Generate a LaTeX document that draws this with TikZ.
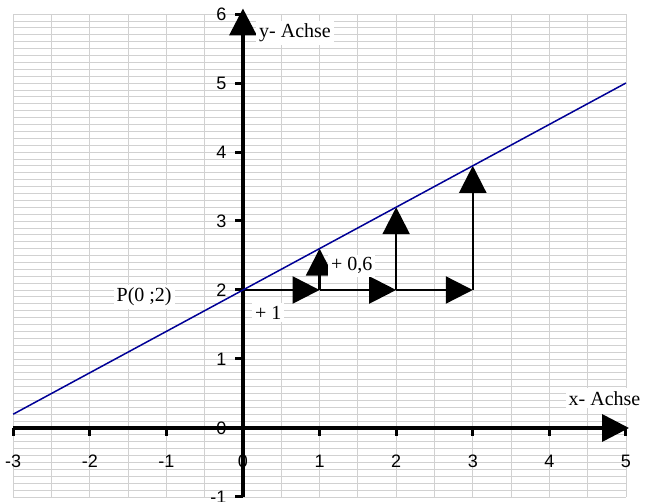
\documentclass[tikz,border=0pt]{standalone}
\usepackage{fontspec}
\setmainfont{Liberation Serif}
\newfontfamily\arialfont{Liberation Sans}
\usetikzlibrary{arrows.meta}

\begin{document}
\begin{tikzpicture}[x=76.6pt, y=69pt,
        gridline/.style={black!18, line width=0.8pt},
        axisline/.style={line width=3.5pt, -{Triangle[length=27pt,width=27pt]}},
        axistick/.style={line width=3pt},
        stepArrow/.style={line width=2.3pt, -{Triangle[length=27pt,width=27pt]}},
        gerade/.style={draw={rgb,255:red,0;green,0;blue,150}, line width=1.5pt},
        numlabel/.style={font=\arialfont\fontsize{18}{18}\selectfont, inner sep=1pt},
        textlabel/.style={fill=white, font=\fontsize{20}{20}\selectfont, inner sep=3pt}]
        \useasboundingbox (-3.172,-1.072) rectangle (5.366,6.203);

        % Grid
        \foreach \k in {-10,...,60}
            \draw[gridline] (-3,\k/10) -- (5,\k/10);
        \foreach \k in {-6,...,10}
            \draw[gridline] (\k/2,-1) -- (\k/2,6);

        % Axes
        \coordinate (xstart) at (-3,0);
        \coordinate (xend) at (5.04,0);
        \coordinate (ystart) at (0,-1);
        \coordinate (yend) at (0,6.08);
        \draw[axisline] (xstart) -- (xend);
        \draw[axisline] (ystart) -- (yend);
        \foreach \x in {-3,...,5} {
            \draw[axistick] (\x,0) -- ++(0,-8pt);
            \node[numlabel] (xlab\x) at (\x,-0.48) {\x};
        }
        \foreach \y in {-1,...,6} {
            \draw[axistick] (0,\y) -- ++(-8pt,0);
            \node[numlabel, anchor=east] (ylab\y) at (-0.2,\y) {\y};
        }
        \node[textlabel] (yname) at (0.68,5.73) {y- Achse};
        \node[textlabel] (xname) at (4.72,0.43) {x- Achse};

        % Steps
        \coordinate (P) at (0,2);
        \foreach \i in {1,2,3} {
            \coordinate (h\i) at (\i,2);
            \coordinate (v\i) at (\i,{2+0.6*\i});
        }
        \draw[stepArrow] (P) -- (h1);
        \draw[stepArrow] (h1) -- (h2);
        \draw[stepArrow] (h2) -- (h3);
        \foreach \i in {1,2,3}
            \draw[stepArrow] (h\i) -- (v\i);
        \node[textlabel] (plus1) at (0.33,1.67) {+ 1};
        \node[textlabel] (plus06) at (1.42,2.35) {+ 0,6};

        % Line
        \coordinate (gA) at (-3,0.2);
        \coordinate (gB) at (5,5);
        \draw[gerade] (gA) -- (gB);
        \node[textlabel] (pname) at (-1.29,1.90) {P(0 ;2)};
    \end{tikzpicture}
\end{document}
